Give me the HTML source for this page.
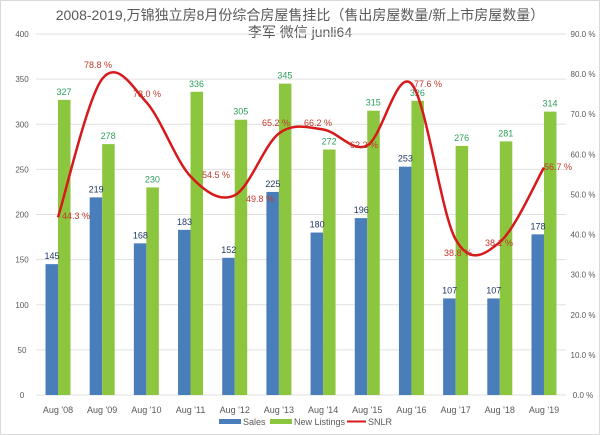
<!DOCTYPE html>
<html><head><meta charset="utf-8"><style>
html,body{margin:0;padding:0;background:#fff;}
svg{display:block;font-family:"Liberation Sans","Noto Sans CJK SC",sans-serif;}
</style></head><body>
<svg id="c" width="600" height="435" viewBox="0 0 600 435" xmlns="http://www.w3.org/2000/svg">
<rect x="0.5" y="0.5" width="599" height="434" fill="#fff" stroke="#d9d9d9"/>
<text x="300" y="20" font-size="14" fill="#595959" text-anchor="middle">2008-2019,万锦独立房8月份综合房屋售挂比（售出房屋数量/新上市房屋数量）</text>
<text x="300" y="37" font-size="14" fill="#595959" text-anchor="middle">李军  微信  junli64</text>
<g id="g"></g>
</svg>
<script>
var g=document.getElementById('g'),s='';
var y0=395,k=361/400;
for(var v=0;v<=400;v+=50){var y=y0-v*k;
s+='<line x1="36" x2="566" y1="'+y+'" y2="'+y+'" stroke="#e0e0e0" stroke-width="1"/>';
s+='<text x="22" y="'+(y+3)+'" font-size="8" fill="#595959" text-anchor="middle">'+v+'</text>';}
for(var j=0;j<=9;j++){var y=y0-j*361/9;
s+='<text x="583" y="'+(y+3)+'" font-size="8" fill="#595959" text-anchor="middle">'+(j*10).toFixed(1)+' %</text>';}
var sales=[145,219,168,183,152,225,180,196,253,107,107,178];
var nl=[327,278,230,336,305,345,272,315,326,276,281,314];
var p=[44.3,78.8,73.0,54.5,49.8,65.2,66.2,62.2,77.6,38.8,38.1,56.7];
var lbl=['08','09','10','11','12','13','14','15','16','17','18','19'];
var lp=[[76,219],[98,68],[147,97],[216,178],[260,202],[276,126],[318,126],[364,148],[428,87],[458,256],[499,246],[558,170]];
var cx=[],py=[];
for(var i=0;i<12;i++){var c=58+i*44.18;cx.push(c);
var hb=sales[i]*k,hg=nl[i]*k;
s+='<rect x="'+(c-12.5)+'" y="'+(y0-hb)+'" width="12.5" height="'+hb+'" fill="#4a7ebb"/>';
s+='<rect x="'+c+'" y="'+(y0-hg)+'" width="12.5" height="'+hg+'" fill="#8cc63f"/>';
s+='<text x="'+(c-6)+'" y="'+(y0-hb-5)+'" font-size="9" fill="#1f3864" text-anchor="middle">'+sales[i]+'</text>';
s+='<text x="'+(c+6)+'" y="'+(y0-hg-5)+'" font-size="9" fill="#2e9e5b" text-anchor="middle">'+nl[i]+'</text>';
s+='<text x="'+c+'" y="413" font-size="9" fill="#595959" text-anchor="middle">Aug \''+lbl[i]+'</text>';
py.push(y0-p[i]/90*361);}
var d='M'+cx[0]+','+py[0];
function P(j){j=Math.max(0,Math.min(11,j));return [cx[j],py[j]];}
for(var i=0;i<11;i++){var a=P(i-1),b=P(i),c2=P(i+1),e=P(i+2);
var c1x=b[0]+(c2[0]-a[0])/6,c1y=b[1]+(c2[1]-a[1])/6,c3x=c2[0]-(e[0]-b[0])/6,c3y=c2[1]-(e[1]-b[1])/6;
d+=' C'+c1x+','+c1y+' '+c3x+','+c3y+' '+c2[0]+','+c2[1];}
s+='<path d="'+d+'" fill="none" stroke="#d7191c" stroke-width="2.5"/>';
for(var i=0;i<12;i++)s+='<text x="'+lp[i][0]+'" y="'+lp[i][1]+'" font-size="9" fill="#c0392b" text-anchor="middle">'+p[i].toFixed(1)+' %</text>';
s+='<rect x="219" y="419" width="22" height="5" fill="#4a7ebb"/><text x="243" y="425" font-size="9" fill="#595959">Sales</text>';
s+='<rect x="270" y="419" width="22" height="5" fill="#8cc63f"/><text x="294" y="425" font-size="9" fill="#595959">New Listings</text>';
s+='<line x1="347" x2="366" y1="421.5" y2="421.5" stroke="#d7191c" stroke-width="2"/><text x="368" y="425" font-size="9" fill="#595959">SNLR</text>';
g.innerHTML=s;
</script>
</body></html>
